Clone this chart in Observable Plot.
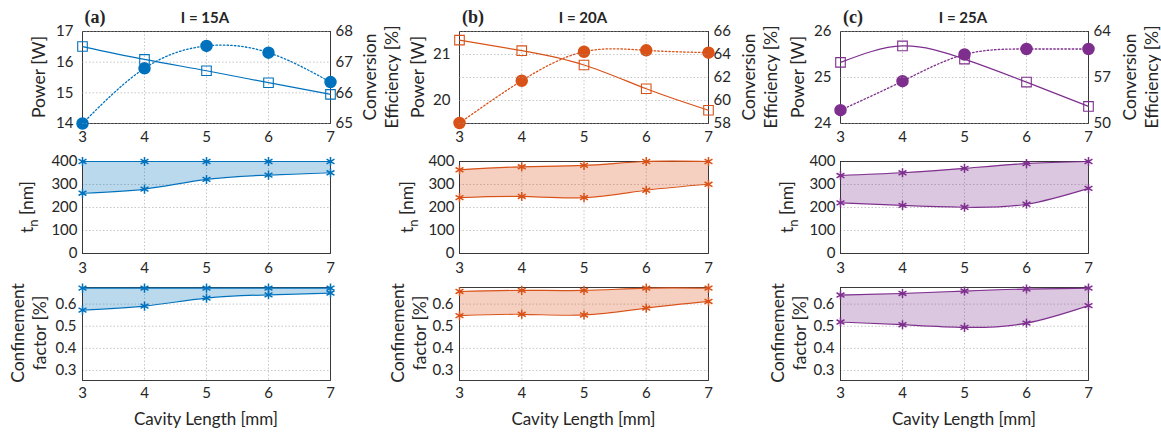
<!DOCTYPE html>
<html><head><meta charset="utf-8">
<script src="https://cdn.jsdelivr.net/npm/d3@7"></script>
<script src="https://cdn.jsdelivr.net/npm/@observablehq/plot@0.6"></script>
<style>
body{margin:0;background:#fff;}
#root{position:relative;width:1161px;height:434px;overflow:hidden;font-family:Lato,"Open Sans",sans-serif;color:#262626;}
#root svg{position:absolute;max-width:none;overflow:visible;}
.lbl{position:absolute;white-space:nowrap;font-size:17.5px;line-height:22px;text-align:center;transform:translate(-50%,-50%) rotate(-90deg);}
.hl{position:absolute;white-space:nowrap;transform:translate(-50%,-50%);}
.tag{font-family:"Liberation Serif",serif;font-weight:bold;font-size:18px;}
.ttl{font-family:Lato,sans-serif;font-weight:bold;font-size:15px;}
.xl{font-size:17px;}
</style></head><body><div id="root"></div>
<script>
// ---------------- data ----------------
const cavity = [3, 4, 5, 6, 7];                       // cavity length [mm]
const currents = ["I = 15A", "I = 20A", "I = 25A"];
const panelTags = ["(a)", "(b)", "(c)"];
const colors = ["#0072BD", "#D95319", "#7E2F8E"];

// top row: output power [W] (filled circles, dotted) / conversion efficiency [%] (open squares, solid)
const power15 = [14.0, 15.8, 16.53, 16.31, 15.35];
const power20 = [19.51, 20.43, 21.06, 21.09, 21.04];
const power25 = [24.29, 24.92, 25.5, 25.62, 25.62];
const eff15 = [67.51, 67.09, 66.72, 66.33, 65.95];
const eff20 = [65.25, 64.33, 63.09, 61.02, 59.15];
const eff25 = [59.3, 61.8, 59.8, 56.3, 52.6];
const powerDomains = [[14, 17], [19.5, 21.5], [24, 26]];
const powerTicks = [[14, 15, 16, 17], [20, 21], [24, 25, 26]];
const effDomains = [[65, 68], [58, 66], [50, 64]];
const effTicks = [[65, 66, 67, 68], [58, 60, 62, 64, 66], [50, 57, 64]];

// middle row: t_n [nm] range (upper / lower bound)
const tnUpper15 = [400, 400, 400, 400, 400];
const tnLower15 = [262, 280, 322, 341, 351];
const tnUpper20 = [364, 377, 383, 400, 400];
const tnLower20 = [243, 248, 243, 275, 301];
const tnUpper25 = [339, 351, 370, 391, 400];
const tnLower25 = [220, 209, 201, 214, 283];
const tnTicks = [0, 100, 200, 300, 400];

// bottom row: confinement factor [%] range (upper / lower bound)
const cfUpper15 = [0.672, 0.672, 0.672, 0.672, 0.672];
const cfLower15 = [0.573, 0.591, 0.627, 0.642, 0.650];
const cfUpper20 = [0.657, 0.662, 0.662, 0.672, 0.672];
const cfLower20 = [0.548, 0.554, 0.551, 0.582, 0.612];
const cfUpper25 = [0.641, 0.648, 0.659, 0.668, 0.672];
const cfLower25 = [0.519, 0.507, 0.495, 0.514, 0.593];
const cfTicks = [0.3, 0.4, 0.5, 0.6];

const powers = [power15, power20, power25];
const effs = [eff15, eff20, eff25];
const tnU = [tnUpper15, tnUpper20, tnUpper25], tnL = [tnLower15, tnLower20, tnLower25];
const cfU = [cfUpper15, cfUpper20, cfUpper25], cfL = [cfLower15, cfLower20, cfLower25];

// ---------------- layout ----------------
const root = document.getElementById("root");
const colX = [[82, 330], [459, 708], [840, 1088]];
const rowY = [[31, 123], [161, 253], [287, 380]];
const M = {l: 60, r: 50, t: 8, b: 30};
const gridStyle = {stroke: "#9a9a9a", strokeOpacity: 0.7, strokeDasharray: "1.5,2", strokeWidth: 0.8};
const AX = "#262626";
const FS = 15;
const intFmt = d3.format("d");

function make(col, row, yOpts, marks) {
  const [x0, x1] = colX[col], [y0, y1] = rowY[row];
  const svg = Plot.plot({
    width: M.l + (x1 - x0) + M.r,
    height: M.t + (y1 - y0) + M.b,
    marginLeft: M.l, marginRight: M.r, marginTop: M.t, marginBottom: M.b,
    style: {background: "transparent", fontFamily: "Lato, sans-serif", fontSize: FS + "px", color: AX},
    x: {domain: [3, 7], axis: null},
    y: {...yOpts, axis: null},
    marks
  });
  svg.style.left = (x0 - M.l) + "px";
  svg.style.top = (y0 - M.t) + "px";
  svg.style.background = "transparent";
  root.appendChild(svg);
}

function addLabel(cls, html, x, y) {
  const d = document.createElement("div");
  d.className = cls;
  d.innerHTML = html;
  d.style.left = x + "px";
  d.style.top = y + "px";
  root.appendChild(d);
}

function xAxis(pad) {
  return Plot.axisX({ticks: cavity, tickSize: 0, tickPadding: pad, label: null, fontSize: FS, tickFormat: intFmt});
}

for (let c = 0; c < 3; c++) {
  const color = colors[c];
  const top = cavity.map((x, i) => ({x, p: powers[c][i], e: effs[c][i]}));
  const mid = cavity.map((x, i) => ({x, lo: tnL[c][i], hi: tnU[c][i]}));
  const bot = cavity.map((x, i) => ({x, lo: cfL[c][i], hi: cfU[c][i]}));

  // top row, left axis: power
  make(c, 0, {domain: powerDomains[c]}, [
    Plot.gridX({ticks: cavity, ...gridStyle}),
    Plot.frame({stroke: AX, strokeWidth: 0.9}),
    xAxis(8),
    Plot.axisY({ticks: powerTicks[c], tickSize: 0, tickPadding: 9, label: null, fontSize: FS, tickFormat: intFmt}),
    Plot.line(top, {x: "x", y: "p", curve: "natural", stroke: color, strokeWidth: 1.3, strokeDasharray: "1.5,2.2"}),
    Plot.dot(top, {x: "x", y: "p", r: 5.5, fill: color, stroke: color})
  ]);
  // top row, right axis: efficiency
  make(c, 0, {domain: effDomains[c]}, [
    Plot.gridY({ticks: effTicks[c], ...gridStyle}),
    Plot.axisY({anchor: "right", ticks: effTicks[c], tickSize: 0, tickPadding: 5, label: null, fontSize: FS, tickFormat: intFmt}),
    Plot.line(top, {x: "x", y: "e", curve: "natural", stroke: color, strokeWidth: 1.2}),
    Plot.dot(top, {x: "x", y: "e", symbol: "square", r: 5.4, fill: "none", stroke: color, strokeWidth: 1.1})
  ]);

  // middle row: t_n
  make(c, 1, {domain: [0, 400]}, [
    Plot.gridX({ticks: cavity, ...gridStyle}),
    Plot.gridY({ticks: tnTicks, ...gridStyle}),
    Plot.areaY(mid, {x: "x", y1: "lo", y2: "hi", curve: "natural", fill: color, fillOpacity: 0.27}),
    Plot.frame({stroke: AX, strokeWidth: 0.9}),
    xAxis(9),
    Plot.axisY({ticks: tnTicks, tickSize: 0, tickPadding: 5, label: null, fontSize: FS, tickFormat: intFmt}),
    Plot.line(mid, {x: "x", y: "hi", curve: "natural", stroke: color, strokeWidth: 1.2}),
    Plot.line(mid, {x: "x", y: "lo", curve: "natural", stroke: color, strokeWidth: 1.2}),
    Plot.dot(mid, {x: "x", y: "hi", symbol: "asterisk", r: 4.3, stroke: color, strokeWidth: 1.5}),
    Plot.dot(mid, {x: "x", y: "lo", symbol: "asterisk", r: 4.3, stroke: color, strokeWidth: 1.5})
  ]);

  // bottom row: confinement factor
  make(c, 2, {domain: [0.255, 0.675]}, [
    Plot.gridX({ticks: cavity, ...gridStyle}),
    Plot.gridY({ticks: cfTicks, ...gridStyle}),
    Plot.areaY(bot, {x: "x", y1: "lo", y2: "hi", curve: "natural", fill: color, fillOpacity: 0.27}),
    Plot.frame({stroke: AX, strokeWidth: 0.9}),
    xAxis(7),
    Plot.axisY({ticks: cfTicks, tickSize: 0, tickPadding: 6, label: null, fontSize: FS, tickFormat: d3.format(".1f")}),
    Plot.line(bot, {x: "x", y: "hi", curve: "natural", stroke: color, strokeWidth: 1.2}),
    Plot.line(bot, {x: "x", y: "lo", curve: "natural", stroke: color, strokeWidth: 1.2}),
    Plot.dot(bot, {x: "x", y: "hi", symbol: "asterisk", r: 4.3, stroke: color, strokeWidth: 1.5}),
    Plot.dot(bot, {x: "x", y: "lo", symbol: "asterisk", r: 4.3, stroke: color, strokeWidth: 1.5})
  ]);
}

// ---------------- text ----------------
const powerLabelX = [39, 418, 798];
const effLabelX = [381, 759.5, 1141];
const tnLabelX = [30, 410, 790];
const cfLabelX = [29, 409, 789];
const tagX = [95, 473, 853];
const titleX = [205, 583, 963];
for (let c = 0; c < 3; c++) {
  addLabel("lbl", "Power [W]", powerLabelX[c], 77);
  addLabel("lbl", "Conversion<br>Efficiency [%]", effLabelX[c], 77);
  addLabel("lbl", "t<sub style=\"font-size:13px;vertical-align:-5px\">n</sub> [nm]", tnLabelX[c], 207);
  addLabel("lbl", "Confinement<br>factor [%]", cfLabelX[c], 333);
  addLabel("hl xl", "Cavity Length [mm]", (colX[c][0] + colX[c][1]) / 2, 418);
  addLabel("hl tag", panelTags[c], tagX[c], 17);
  addLabel("hl ttl", currents[c], titleX[c], 17);
}
</script></body></html>
